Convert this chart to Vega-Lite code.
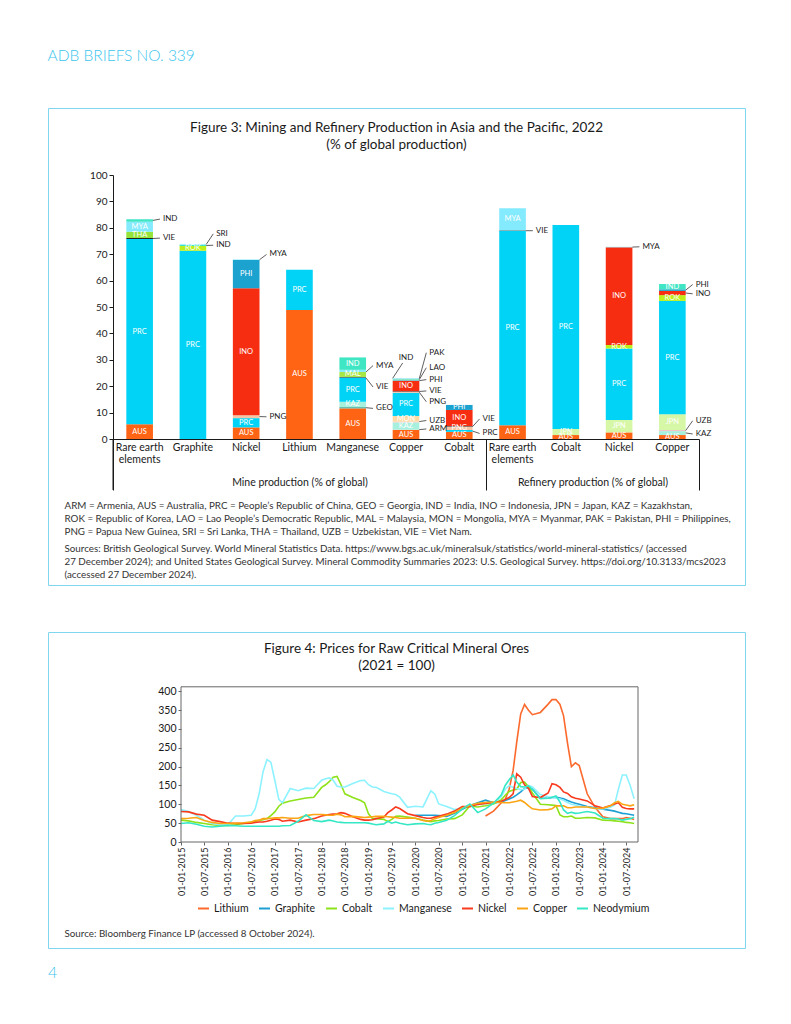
{
"$schema": "https://vega.github.io/schema/vega-lite/v6.json",
"background": "white",
"padding": {"left": 47, "top": 49, "right": 0, "bottom": 0},
"autosize": {"type": "pad"},
"config": {
  "font": "Lato",
  "view": {"stroke": "#80d6f0", "strokeWidth": 1},
  "axis": {"labelFont": "Lato", "titleFont": "Lato", "grid": false},
  "title": {"font": "Lato", "subtitleFont": "Lato"},
  "text": {"font": "Lato"},
  "legend": {"labelFont": "Lato"}
},
"resolve": {"scale": {"color": "independent"}, "legend": {"color": "independent"}},
"title": {"text": "ADB BRIEFS NO. 339", "anchor": "start", "fontSize": 15.5, "fontWeight": 300, "color": "#3dc5ee", "offset": 43},
"datasets": {
  "segs": [
    {"bar": "m_ree", "c": "AUS", "v": 5.6, "o": 1, "t": "AUS"},
    {"bar": "m_ree", "c": "PRC", "v": 70.2, "o": 2, "t": "PRC"},
    {"bar": "m_ree", "c": "VIE", "v": 0.3, "o": 3, "t": ""},
    {"bar": "m_ree", "c": "THA", "v": 2.4, "o": 4, "t": "THA"},
    {"bar": "m_ree", "c": "MYA", "v": 3.8, "o": 5, "t": "MYA"},
    {"bar": "m_ree", "c": "IND", "v": 0.9, "o": 6, "t": ""},
    {"bar": "m_gra", "c": "PRC", "v": 71.3, "o": 1, "t": "PRC"},
    {"bar": "m_gra", "c": "ROK", "v": 1.8, "o": 2, "t": "ROK"},
    {"bar": "m_gra", "c": "IND", "v": 0.4, "o": 3, "t": ""},
    {"bar": "m_gra", "c": "SRI", "v": 0.4, "o": 4, "t": ""},
    {"bar": "m_nic", "c": "AUS", "v": 4.4, "o": 1, "t": "AUS"},
    {"bar": "m_nic", "c": "PRC", "v": 3.5, "o": 2, "t": "PRC"},
    {"bar": "m_nic", "c": "PNG", "v": 1.1, "o": 3, "t": ""},
    {"bar": "m_nic", "c": "INO", "v": 48.1, "o": 4, "t": "INO"},
    {"bar": "m_nic", "c": "PHI", "v": 10.7, "o": 5, "t": "PHI"},
    {"bar": "m_nic", "c": "MYA", "v": 0.2, "o": 6, "t": ""},
    {"bar": "m_lit", "c": "AUS", "v": 48.9, "o": 1, "t": "AUS"},
    {"bar": "m_lit", "c": "PRC", "v": 15.2, "o": 2, "t": "PRC"},
    {"bar": "m_man", "c": "AUS", "v": 11.6, "o": 1, "t": "AUS"},
    {"bar": "m_man", "c": "GEO", "v": 0.5, "o": 2, "t": ""},
    {"bar": "m_man", "c": "KAZ", "v": 2.0, "o": 3, "t": "KAZ"},
    {"bar": "m_man", "c": "PRC", "v": 9.2, "o": 4, "t": "PRC"},
    {"bar": "m_man", "c": "VIE", "v": 0.2, "o": 5, "t": ""},
    {"bar": "m_man", "c": "MAL", "v": 1.9, "o": 6, "t": "MAL"},
    {"bar": "m_man", "c": "MYA", "v": 0.8, "o": 7, "t": ""},
    {"bar": "m_man", "c": "IND", "v": 4.7, "o": 8, "t": "IND"},
    {"bar": "m_cop", "c": "AUS", "v": 3.4, "o": 1, "t": "AUS"},
    {"bar": "m_cop", "c": "ARM", "v": 0.3, "o": 2, "t": ""},
    {"bar": "m_cop", "c": "KAZ", "v": 2.6, "o": 3, "t": "KAZ"},
    {"bar": "m_cop", "c": "UZB", "v": 0.3, "o": 4, "t": ""},
    {"bar": "m_cop", "c": "MON", "v": 2.1, "o": 5, "t": "MON"},
    {"bar": "m_cop", "c": "PRC", "v": 8.8, "o": 6, "t": "PRC"},
    {"bar": "m_cop", "c": "PNG", "v": 0.4, "o": 7, "t": ""},
    {"bar": "m_cop", "c": "VIE", "v": 0.2, "o": 8, "t": ""},
    {"bar": "m_cop", "c": "INO", "v": 3.9, "o": 9, "t": "INO"},
    {"bar": "m_cop", "c": "PHI", "v": 0.25, "o": 10, "t": ""},
    {"bar": "m_cop", "c": "LAO", "v": 0.25, "o": 11, "t": ""},
    {"bar": "m_cop", "c": "IND", "v": 0.25, "o": 12, "t": ""},
    {"bar": "m_cop", "c": "PAK", "v": 0.3, "o": 13, "t": ""},
    {"bar": "m_cob", "c": "AUS", "v": 2.7, "o": 1, "t": "AUS"},
    {"bar": "m_cob", "c": "PRC", "v": 0.7, "o": 2, "t": ""},
    {"bar": "m_cob", "c": "PNG", "v": 1.3, "o": 3, "t": "PNG"},
    {"bar": "m_cob", "c": "VIE", "v": 0.2, "o": 4, "t": ""},
    {"bar": "m_cob", "c": "INO", "v": 6.1, "o": 5, "t": "INO"},
    {"bar": "m_cob", "c": "PHI", "v": 1.9, "o": 6, "t": "PHI"},
    {"bar": "r_ree", "c": "AUS", "v": 5.2, "o": 1, "t": "AUS"},
    {"bar": "r_ree", "c": "PRC", "v": 73.6, "o": 2, "t": "PRC"},
    {"bar": "r_ree", "c": "VIE", "v": 0.2, "o": 3, "t": ""},
    {"bar": "r_ree", "c": "MYA", "v": 8.4, "o": 4, "t": "MYA"},
    {"bar": "r_cob", "c": "AUS", "v": 1.5, "o": 1, "t": "AUS"},
    {"bar": "r_cob", "c": "JPN", "v": 2.3, "o": 2, "t": "JPN"},
    {"bar": "r_cob", "c": "PRC", "v": 77.3, "o": 3, "t": "PRC"},
    {"bar": "r_nic", "c": "AUS", "v": 2.5, "o": 1, "t": "AUS"},
    {"bar": "r_nic", "c": "JPN", "v": 4.7, "o": 2, "t": "JPN"},
    {"bar": "r_nic", "c": "PRC", "v": 27.1, "o": 3, "t": "PRC"},
    {"bar": "r_nic", "c": "ROK", "v": 1.3, "o": 4, "t": "ROK"},
    {"bar": "r_nic", "c": "INO", "v": 37.0, "o": 5, "t": "INO"},
    {"bar": "r_nic", "c": "MYA", "v": 0.2, "o": 6, "t": ""},
    {"bar": "r_cop", "c": "AUS", "v": 1.5, "o": 1, "t": "AUS"},
    {"bar": "r_cop", "c": "KAZ", "v": 1.5, "o": 2, "t": ""},
    {"bar": "r_cop", "c": "UZB", "v": 0.4, "o": 3, "t": ""},
    {"bar": "r_cop", "c": "JPN", "v": 6.0, "o": 4, "t": "JPN"},
    {"bar": "r_cop", "c": "PRC", "v": 42.9, "o": 5, "t": "PRC"},
    {"bar": "r_cop", "c": "ROK", "v": 2.2, "o": 6, "t": "ROK"},
    {"bar": "r_cop", "c": "INO", "v": 1.6, "o": 7, "t": ""},
    {"bar": "r_cop", "c": "PHI", "v": 0.6, "o": 8, "t": ""},
    {"bar": "r_cop", "c": "IND", "v": 2.0, "o": 9, "t": "IND"}
  ],
  "annos": [
    {"bar": "m_ree", "t": "IND", "ys": 82.8, "ye": 83.3, "yl": 83.3, "s": "r"},
    {"bar": "m_ree", "t": "VIE", "ys": 75.95, "ye": 76.1, "yl": 76.1, "s": "r"},
    {"bar": "m_gra", "t": "SRI", "ys": 73.7, "ye": 77.7, "yl": 77.7, "s": "r"},
    {"bar": "m_gra", "t": "IND", "ys": 73.3, "ye": 73.4, "yl": 73.4, "s": "r"},
    {"bar": "m_nic", "t": "MYA", "ys": 67.9, "ye": 69.9, "yl": 69.9, "s": "r"},
    {"bar": "m_nic", "t": "PNG", "ys": 8.5, "ye": 8.4, "yl": 8.4, "s": "r"},
    {"bar": "m_man", "t": "MYA", "ys": 25.4, "ye": 27.8, "yl": 27.8, "s": "r"},
    {"bar": "m_man", "t": "VIE", "ys": 23.1, "ye": 19.7, "yl": 19.7, "s": "r"},
    {"bar": "m_man", "t": "GEO", "ys": 11.85, "ye": 11.6, "yl": 11.6, "s": "r"},
    {"bar": "m_cop", "t": "PAK", "ys": 22.9, "ye": 32.7, "yl": 32.7, "s": "r"},
    {"bar": "m_cop", "t": "LAO", "ys": 22.5, "ye": 27.0, "yl": 27.0, "s": "r"},
    {"bar": "m_cop", "t": "PHI", "ys": 22.1, "ye": 22.5, "yl": 22.5, "s": "r"},
    {"bar": "m_cop", "t": "VIE", "ys": 18.0, "ye": 18.2, "yl": 18.2, "s": "r"},
    {"bar": "m_cop", "t": "PNG", "ys": 17.7, "ye": 14.1, "yl": 14.1, "s": "r"},
    {"bar": "m_cop", "t": "UZB", "ys": 6.6, "ye": 7.0, "yl": 7.0, "s": "r"},
    {"bar": "m_cop", "t": "ARM", "ys": 3.55, "ye": 3.8, "yl": 3.8, "s": "r"},
    {"bar": "m_cop", "t": "IND", "ys": 23.0, "ye": 28.8, "yl": 30.6, "s": "t"},
    {"bar": "m_cob", "t": "VIE", "ys": 4.7, "ye": 7.6, "yl": 7.6, "s": "r"},
    {"bar": "m_cob", "t": "PRC", "ys": 3.0, "ye": 2.1, "yl": 2.1, "s": "r"},
    {"bar": "r_ree", "t": "VIE", "ys": 78.9, "ye": 78.9, "yl": 78.9, "s": "r"},
    {"bar": "r_nic", "t": "MYA", "ys": 72.7, "ye": 72.8, "yl": 72.8, "s": "r"},
    {"bar": "r_cop", "t": "PHI", "ys": 56.4, "ye": 58.5, "yl": 58.5, "s": "r"},
    {"bar": "r_cop", "t": "INO", "ys": 55.3, "ye": 55.0, "yl": 55.0, "s": "r"},
    {"bar": "r_cop", "t": "UZB", "ys": 3.2, "ye": 6.9, "yl": 6.9, "s": "r"},
    {"bar": "r_cop", "t": "KAZ", "ys": 2.3, "ye": 1.9, "yl": 1.9, "s": "r"}
  ],
  "prices": [
    {"d": "2015-01-01", "Cobalt": 58, "Manganese": 86, "Nickel": 81, "Copper": 62, "Neodymium": 49},
    {"d": "2015-03-01", "Cobalt": 56, "Manganese": 81, "Nickel": 80, "Copper": 63, "Neodymium": 51},
    {"d": "2015-05-01", "Cobalt": 52, "Manganese": 71, "Nickel": 74, "Copper": 65, "Neodymium": 47},
    {"d": "2015-07-01", "Cobalt": 49, "Manganese": 58, "Nickel": 71, "Copper": 57, "Neodymium": 42},
    {"d": "2015-09-01", "Cobalt": 46, "Manganese": 49, "Nickel": 58, "Copper": 52, "Neodymium": 40},
    {"d": "2015-11-01", "Cobalt": 44, "Manganese": 46, "Nickel": 54, "Copper": 49, "Neodymium": 42},
    {"d": "2016-01-01", "Cobalt": 44, "Manganese": 46, "Nickel": 50, "Copper": 49, "Neodymium": 44},
    {"d": "2016-03-01", "Cobalt": 46, "Manganese": 69, "Nickel": 49, "Copper": 50, "Neodymium": 43},
    {"d": "2016-05-01", "Cobalt": 49, "Manganese": 69, "Nickel": 49, "Copper": 51, "Neodymium": 42},
    {"d": "2016-07-01", "Cobalt": 53, "Manganese": 71, "Nickel": 50, "Copper": 53, "Neodymium": 42},
    {"d": "2016-08-01", "Cobalt": 55, "Manganese": 88, "Nickel": 52, "Copper": 57, "Neodymium": 42},
    {"d": "2016-09-01", "Cobalt": 57, "Manganese": 128, "Nickel": 53, "Copper": 58, "Neodymium": 42},
    {"d": "2016-10-01", "Cobalt": 59, "Manganese": 186, "Nickel": 53, "Copper": 62, "Neodymium": 42},
    {"d": "2016-11-01", "Cobalt": 62, "Manganese": 219, "Nickel": 55, "Copper": 62, "Neodymium": 42},
    {"d": "2016-12-01", "Cobalt": 70, "Manganese": 212, "Nickel": 58, "Copper": 63, "Neodymium": 42},
    {"d": "2017-01-01", "Cobalt": 80, "Manganese": 164, "Nickel": 61, "Copper": 64, "Neodymium": 42},
    {"d": "2017-02-01", "Cobalt": 95, "Manganese": 113, "Nickel": 60, "Copper": 64, "Neodymium": 42},
    {"d": "2017-03-01", "Cobalt": 103, "Manganese": 104, "Nickel": 55, "Copper": 65, "Neodymium": 43},
    {"d": "2017-05-01", "Cobalt": 109, "Manganese": 142, "Nickel": 58, "Copper": 63, "Neodymium": 44},
    {"d": "2017-07-01", "Cobalt": 113, "Manganese": 136, "Nickel": 53, "Copper": 63, "Neodymium": 55},
    {"d": "2017-09-01", "Cobalt": 117, "Manganese": 143, "Nickel": 58, "Copper": 70, "Neodymium": 72},
    {"d": "2017-11-01", "Cobalt": 119, "Manganese": 142, "Nickel": 62, "Copper": 73, "Neodymium": 57},
    {"d": "2018-01-01", "Cobalt": 145, "Manganese": 164, "Nickel": 69, "Copper": 73, "Neodymium": 54},
    {"d": "2018-02-01", "Cobalt": 152, "Manganese": 168, "Nickel": 71, "Copper": 72, "Neodymium": 56},
    {"d": "2018-03-01", "Cobalt": 160, "Manganese": 170, "Nickel": 73, "Copper": 71, "Neodymium": 58},
    {"d": "2018-04-01", "Cobalt": 172, "Manganese": 164, "Nickel": 74, "Copper": 71, "Neodymium": 56},
    {"d": "2018-05-01", "Cobalt": 174, "Manganese": 148, "Nickel": 75, "Copper": 74, "Neodymium": 53},
    {"d": "2018-06-01", "Cobalt": 152, "Manganese": 146, "Nickel": 78, "Copper": 72, "Neodymium": 52},
    {"d": "2018-07-01", "Cobalt": 128, "Manganese": 146, "Nickel": 76, "Copper": 67, "Neodymium": 51},
    {"d": "2018-09-01", "Cobalt": 118, "Manganese": 155, "Nickel": 67, "Copper": 68, "Neodymium": 51},
    {"d": "2018-11-01", "Cobalt": 110, "Manganese": 163, "Nickel": 60, "Copper": 66, "Neodymium": 51},
    {"d": "2018-12-01", "Cobalt": 104, "Manganese": 164, "Nickel": 58, "Copper": 65, "Neodymium": 51},
    {"d": "2019-01-01", "Cobalt": 75, "Manganese": 152, "Nickel": 58, "Copper": 66, "Neodymium": 50},
    {"d": "2019-02-01", "Cobalt": 62, "Manganese": 146, "Nickel": 59, "Copper": 67, "Neodymium": 48},
    {"d": "2019-03-01", "Cobalt": 62, "Manganese": 145, "Nickel": 62, "Copper": 68, "Neodymium": 46},
    {"d": "2019-05-01", "Cobalt": 60, "Manganese": 134, "Nickel": 66, "Copper": 68, "Neodymium": 48},
    {"d": "2019-06-01", "Cobalt": 54, "Manganese": 131, "Nickel": 78, "Copper": 67, "Neodymium": 55},
    {"d": "2019-07-01", "Cobalt": 60, "Manganese": 128, "Nickel": 85, "Copper": 66, "Neodymium": 50},
    {"d": "2019-08-01", "Cobalt": 68, "Manganese": 126, "Nickel": 93, "Copper": 65, "Neodymium": 53},
    {"d": "2019-09-01", "Cobalt": 69, "Manganese": 119, "Nickel": 89, "Copper": 63, "Neodymium": 50},
    {"d": "2019-11-01", "Cobalt": 66, "Manganese": 92, "Nickel": 75, "Copper": 63, "Neodymium": 46},
    {"d": "2020-01-01", "Graphite": 71, "Cobalt": 63, "Manganese": 95, "Nickel": 70, "Copper": 63, "Neodymium": 48},
    {"d": "2020-03-01", "Graphite": 71, "Cobalt": 58, "Manganese": 93, "Nickel": 65, "Copper": 57, "Neodymium": 49},
    {"d": "2020-04-01", "Graphite": 71, "Cobalt": 56, "Manganese": 115, "Nickel": 63, "Copper": 55, "Neodymium": 47},
    {"d": "2020-05-01", "Graphite": 71, "Cobalt": 54, "Manganese": 136, "Nickel": 63, "Copper": 57, "Neodymium": 46},
    {"d": "2020-06-01", "Graphite": 71, "Cobalt": 56, "Manganese": 127, "Nickel": 66, "Copper": 62, "Neodymium": 50},
    {"d": "2020-07-01", "Graphite": 70, "Cobalt": 57, "Manganese": 101, "Nickel": 68, "Copper": 65, "Neodymium": 52},
    {"d": "2020-09-01", "Graphite": 68, "Cobalt": 61, "Manganese": 94, "Nickel": 74, "Copper": 71, "Neodymium": 58},
    {"d": "2020-11-01", "Graphite": 76, "Cobalt": 62, "Manganese": 86, "Nickel": 82, "Copper": 78, "Neodymium": 70},
    {"d": "2021-01-01", "Graphite": 87, "Cobalt": 72, "Manganese": 90, "Nickel": 94, "Copper": 90, "Neodymium": 88},
    {"d": "2021-03-01", "Graphite": 97, "Cobalt": 96, "Manganese": 98, "Nickel": 94, "Copper": 97, "Neodymium": 101},
    {"d": "2021-05-01", "Graphite": 104, "Cobalt": 93, "Manganese": 100, "Nickel": 100, "Copper": 103, "Neodymium": 78},
    {"d": "2021-07-01", "Lithium": 69, "Graphite": 111, "Cobalt": 96, "Manganese": 102, "Nickel": 102, "Copper": 105, "Neodymium": 88},
    {"d": "2021-09-01", "Lithium": 82, "Graphite": 104, "Cobalt": 101, "Manganese": 103, "Nickel": 105, "Copper": 106, "Neodymium": 103},
    {"d": "2021-11-01", "Lithium": 104, "Graphite": 106, "Cobalt": 112, "Manganese": 120, "Nickel": 108, "Copper": 105, "Neodymium": 125},
    {"d": "2021-12-01", "Lithium": 113, "Graphite": 110, "Cobalt": 124, "Manganese": 140, "Nickel": 113, "Copper": 104, "Neodymium": 150},
    {"d": "2022-01-01", "Lithium": 140, "Graphite": 114, "Cobalt": 134, "Manganese": 150, "Nickel": 118, "Copper": 104, "Neodymium": 165},
    {"d": "2022-02-01", "Lithium": 190, "Graphite": 119, "Cobalt": 138, "Manganese": 145, "Nickel": 128, "Copper": 106, "Neodymium": 178},
    {"d": "2022-03-01", "Lithium": 265, "Graphite": 125, "Cobalt": 140, "Manganese": 142, "Nickel": 181, "Copper": 108, "Neodymium": 159},
    {"d": "2022-04-01", "Lithium": 340, "Graphite": 133, "Cobalt": 158, "Manganese": 139, "Nickel": 172, "Copper": 111, "Neodymium": 147},
    {"d": "2022-05-01", "Lithium": 365, "Graphite": 142, "Cobalt": 159, "Manganese": 140, "Nickel": 152, "Copper": 105, "Neodymium": 146},
    {"d": "2022-06-01", "Lithium": 350, "Graphite": 144, "Cobalt": 147, "Manganese": 150, "Nickel": 142, "Copper": 96, "Neodymium": 149},
    {"d": "2022-07-01", "Lithium": 338, "Graphite": 140, "Cobalt": 130, "Manganese": 146, "Nickel": 121, "Copper": 88, "Neodymium": 140},
    {"d": "2022-09-01", "Lithium": 344, "Graphite": 116, "Cobalt": 100, "Manganese": 126, "Nickel": 118, "Copper": 85, "Neodymium": 115},
    {"d": "2022-11-01", "Lithium": 366, "Graphite": 116, "Cobalt": 99, "Manganese": 120, "Nickel": 130, "Copper": 86, "Neodymium": 116},
    {"d": "2022-12-01", "Lithium": 378, "Graphite": 118, "Cobalt": 98, "Manganese": 118, "Nickel": 155, "Copper": 88, "Neodymium": 119},
    {"d": "2023-01-01", "Lithium": 378, "Graphite": 119, "Cobalt": 97, "Manganese": 117, "Nickel": 152, "Copper": 96, "Neodymium": 122},
    {"d": "2023-02-01", "Lithium": 365, "Graphite": 117, "Cobalt": 72, "Manganese": 114, "Nickel": 145, "Copper": 96, "Neodymium": 106},
    {"d": "2023-03-01", "Lithium": 335, "Graphite": 115, "Cobalt": 67, "Manganese": 111, "Nickel": 133, "Copper": 96, "Neodymium": 85},
    {"d": "2023-04-01", "Lithium": 262, "Graphite": 110, "Cobalt": 67, "Manganese": 105, "Nickel": 129, "Copper": 91, "Neodymium": 76},
    {"d": "2023-05-01", "Lithium": 200, "Graphite": 106, "Cobalt": 69, "Manganese": 100, "Nickel": 120, "Copper": 91, "Neodymium": 79},
    {"d": "2023-06-01", "Lithium": 210, "Graphite": 103, "Cobalt": 63, "Manganese": 98, "Nickel": 116, "Copper": 93, "Neodymium": 76},
    {"d": "2023-07-01", "Lithium": 203, "Graphite": 100, "Cobalt": 63, "Manganese": 95, "Nickel": 114, "Copper": 93, "Neodymium": 77},
    {"d": "2023-09-01", "Lithium": 128, "Graphite": 94, "Cobalt": 65, "Manganese": 93, "Nickel": 109, "Copper": 93, "Neodymium": 81},
    {"d": "2023-11-01", "Lithium": 92, "Graphite": 91, "Cobalt": 64, "Manganese": 89, "Nickel": 96, "Copper": 89, "Neodymium": 77},
    {"d": "2024-01-01", "Lithium": 67, "Graphite": 87, "Cobalt": 58, "Manganese": 88, "Nickel": 90, "Copper": 90, "Neodymium": 63},
    {"d": "2024-03-01", "Lithium": 62, "Graphite": 84, "Cobalt": 57, "Manganese": 92, "Nickel": 97, "Copper": 96, "Neodymium": 62},
    {"d": "2024-04-01", "Lithium": 62, "Graphite": 82, "Cobalt": 56, "Manganese": 98, "Nickel": 101, "Copper": 104, "Neodymium": 62},
    {"d": "2024-05-01", "Lithium": 62, "Graphite": 79, "Cobalt": 55, "Manganese": 140, "Nickel": 104, "Copper": 108, "Neodymium": 61},
    {"d": "2024-06-01", "Lithium": 62, "Graphite": 76, "Cobalt": 54, "Manganese": 178, "Nickel": 92, "Copper": 100, "Neodymium": 58},
    {"d": "2024-07-01", "Lithium": 65, "Graphite": 75, "Cobalt": 52, "Manganese": 178, "Nickel": 89, "Copper": 98, "Neodymium": 60},
    {"d": "2024-08-01", "Lithium": 63, "Graphite": 73, "Cobalt": 51, "Manganese": 150, "Nickel": 88, "Copper": 96, "Neodymium": 62},
    {"d": "2024-09-01", "Lithium": 60, "Graphite": 71, "Cobalt": 49, "Manganese": 115, "Nickel": 88, "Copper": 99, "Neodymium": 66}
  ]
},
"spacing": 45,
"vconcat": [
  {
    "width": 697,
    "height": 477,
    "title": {"text": "Figure 3: Mining and Refinery Production in Asia and the Pacific, 2022", "subtitle": "(% of global production)", "anchor": "middle", "frame": "group", "offset": -43, "fontSize": 13.5, "fontWeight": "normal", "color": "#1a1a1a", "subtitleFontSize": 13.5, "subtitleColor": "#1a1a1a", "subtitlePadding": 3.5},
    "resolve": {"scale": {"x": "independent"}},
    "layer": [
      {
        "layer": [
          {
            "data": {"name": "segs"},
            "mark": {"type": "bar"},
            "encoding": {
              "x": {"field": "bar", "type": "nominal",
                "scale": {"domain": ["m_ree", "m_gra", "m_nic", "m_lit", "m_man", "m_cop", "m_cob", "r_ree", "r_cob", "r_nic", "r_cop"], "range": [65, 651], "paddingInner": 0.5, "paddingOuter": 0.25},
                "axis": {"orient": "bottom", "offset": -146, "ticks": false, "labelPadding": 3, "labelFontSize": 10.5, "labelColor": "#1a1a1a", "labelAngle": 0, "labelLineHeight": 12, "labelBaseline": "top",
                  "labelExpr": "datum.value=='m_ree'||datum.value=='r_ree' ? ['Rare earth','elements'] : datum.value=='m_gra' ? 'Graphite' : datum.value=='m_nic'||datum.value=='r_nic' ? 'Nickel' : datum.value=='m_lit' ? 'Lithium' : datum.value=='m_man' ? 'Manganese' : datum.value=='m_cop'||datum.value=='r_cop' ? 'Copper' : 'Cobalt'",
                  "domainColor": "#1a1a1a", "domainWidth": 1,
                  "title": ["ARM = Armenia, AUS = Australia, PRC = People’s Republic of China, GEO = Georgia, IND = India, INO = Indonesia, JPN = Japan, KAZ = Kazakhstan,", "ROK = Republic of Korea, LAO = Lao People’s Democratic Republic, MAL = Malaysia, MON = Mongolia, MYA = Myanmar, PAK = Pakistan, PHI = Philippines,", "PNG = Papua New Guinea, SRI = Sri Lanka, THA = Thailand, UZB = Uzbekistan, VIE = Viet Nam."],
                  "titleX": 16, "titleY": 61.5, "titleAlign": "left", "titleAnchor": "start", "titleBaseline": "top", "titleFontSize": 9.8, "titleFontWeight": "normal", "titleColor": "#333333", "titleLineHeight": 13}},
              "y": {"field": "v", "type": "quantitative", "stack": "zero",
                "scale": {"domain": [0, 100], "range": [331, 67], "nice": false},
                "axis": {"orient": "left", "offset": -65, "values": [0, 10, 20, 30, 40, 50, 60, 70, 80, 90, 100], "title": null, "tickSize": 4, "labelPadding": 2, "labelFontSize": 10, "labelColor": "#1a1a1a", "domainColor": "#1a1a1a", "tickColor": "#1a1a1a"}},
              "color": {"field": "c", "type": "nominal",
                "scale": {"domain": ["AUS", "PRC", "INO", "PHI", "MYA", "IND", "THA", "ROK", "MAL", "KAZ", "MON", "PNG", "JPN", "VIE", "GEO", "SRI", "UZB", "ARM", "LAO", "PAK"],
                          "range": ["#ff6314", "#00d3f5", "#f72d12", "#1ba2cf", "#84eafd", "#3fe6c4", "#93e33a", "#bdf01a", "#a6e646", "#a8f0de", "#ffdba3", "#f5c6a6", "#d6f7a6", "#222222", "#5cb8a8", "#a5eefb", "#f3c4c8", "#b5e8d8", "#f9c58a", "#9ee8f5"]},
                "legend": null},
              "order": {"field": "o", "type": "quantitative"}
            }
          },
          {
            "data": {"name": "segs"},
            "mark": {"type": "text", "fontSize": 7.5, "color": "white", "baseline": "middle"},
            "encoding": {
              "x": {"field": "bar", "type": "nominal"},
              "y": {"field": "v", "type": "quantitative", "stack": "zero", "bandPosition": 0.5},
              "detail": {"field": "c"},
              "order": {"field": "o", "type": "quantitative"},
              "text": {"field": "t"}
            }
          },
          {
            "data": {"name": "annos"},
            "transform": [{"filter": "datum.s == 'r'"}],
            "mark": {"type": "rule", "color": "#1a1a1a", "strokeWidth": 0.7, "x2Offset": 7},
            "encoding": {
              "x": {"field": "bar", "type": "nominal", "bandPosition": 1},
              "x2": {"field": "bar", "bandPosition": 1},
              "y": {"field": "ys", "type": "quantitative"},
              "y2": {"field": "ye"}
            }
          },
          {
            "data": {"name": "annos"},
            "transform": [{"filter": "datum.s == 'r'"}],
            "mark": {"type": "text", "align": "left", "baseline": "middle", "dx": 10, "fontSize": 8, "color": "#1a1a1a"},
            "encoding": {
              "x": {"field": "bar", "type": "nominal", "bandPosition": 1},
              "y": {"field": "yl", "type": "quantitative"},
              "text": {"field": "t"}
            }
          },
          {
            "data": {"name": "annos"},
            "transform": [{"filter": "datum.s == 't'"}],
            "mark": {"type": "rule", "color": "#1a1a1a", "strokeWidth": 0.7, "x2Offset": 10},
            "encoding": {
              "x": {"field": "bar", "type": "nominal", "bandPosition": 0},
              "x2": {"field": "bar", "bandPosition": 0},
              "y": {"field": "ys", "type": "quantitative"},
              "y2": {"field": "ye"}
            }
          },
          {
            "data": {"name": "annos"},
            "transform": [{"filter": "datum.s == 't'"}],
            "mark": {"type": "text", "align": "center", "baseline": "middle", "fontSize": 8, "color": "#1a1a1a"},
            "encoding": {
              "x": {"field": "bar", "type": "nominal", "bandPosition": 0.5},
              "y": {"field": "yl", "type": "quantitative"},
              "text": {"field": "t"}
            }
          }
        ]
      },
      {
        "data": {"values": [{}]},
        "mark": {"type": "rule", "color": "#1a1a1a", "strokeWidth": 1},
        "encoding": {
          "x": {"datum": 0, "type": "quantitative",
            "scale": {"domain": [0, 11], "range": [65, 651], "nice": false, "zero": false},
            "axis": {"orient": "bottom", "offset": -146, "values": [0, 3.5, 7, 9, 11], "domain": false, "tickSize": 51, "tickColor": "#1a1a1a", "tickWidth": 1,
              "tickOpacity": {"condition": {"test": "datum.value == 3.5 || datum.value == 9", "value": 0}, "value": 1},
              "labelExpr": "datum.value == 3.5 ? 'Mine production (% of global)' : datum.value == 9 ? 'Refinery production (% of global)' : ''",
              "labelPadding": -12.5, "labelFontSize": 10.5, "labelColor": "#1a1a1a", "labelBaseline": "top", "labelFlush": false, "labelOverlap": false, "labelBound": false,
              "title": ["Sources: British Geological Survey. World Mineral Statistics Data. https://www.bgs.ac.uk/mineralsuk/statistics/world-mineral-statistics/ (accessed", "27 December 2024); and United States Geological Survey. Mineral Commodity Summaries 2023: U.S. Geological Survey. https://doi.org/10.3133/mcs2023", "(accessed 27 December 2024)."],
              "titleX": 16, "titleY": 104.5, "titleAlign": "left", "titleAnchor": "start", "titleBaseline": "top", "titleFontSize": 9.8, "titleFontWeight": "normal", "titleColor": "#333333", "titleLineHeight": 13}},
          "y": {"datum": 0, "type": "quantitative"},
          "y2": {"datum": -19.3}
        }
      }
    ]
  },
  {
    "spacing": 15,
    "vconcat": [
      {
        "width": 697,
        "height": 316,
        "title": {"text": "Figure 4: Prices for Raw Critical Mineral Ores", "subtitle": "(2021 = 100)", "anchor": "middle", "frame": "group", "offset": -40, "fontSize": 13.5, "fontWeight": "normal", "color": "#1a1a1a", "subtitleFontSize": 13.5, "subtitleColor": "#1a1a1a", "subtitlePadding": 3.5},
        "layer": [
          {
            "data": {"name": "prices"},
            "transform": [{"fold": ["Lithium", "Graphite", "Cobalt", "Manganese", "Nickel", "Copper", "Neodymium"], "as": ["s", "p"]}],
            "mark": {"type": "line", "strokeWidth": 1.6},
            "encoding": {
              "x": {"field": "d", "type": "temporal",
                "scale": {"type": "utc", "domain": [{"year": 2015, "month": 1, "date": 1, "utc": true}, {"year": 2024, "month": 10, "date": 1, "utc": true}], "range": [133, 590], "nice": false},
                "axis": {"orient": "bottom", "offset": -106,
                  "values": [{"year": 2015, "month": 1, "date": 1, "utc": true}, {"year": 2015, "month": 7, "date": 1, "utc": true}, {"year": 2016, "month": 1, "date": 1, "utc": true}, {"year": 2016, "month": 7, "date": 1, "utc": true}, {"year": 2017, "month": 1, "date": 1, "utc": true}, {"year": 2017, "month": 7, "date": 1, "utc": true}, {"year": 2018, "month": 1, "date": 1, "utc": true}, {"year": 2018, "month": 7, "date": 1, "utc": true}, {"year": 2019, "month": 1, "date": 1, "utc": true}, {"year": 2019, "month": 7, "date": 1, "utc": true}, {"year": 2020, "month": 1, "date": 1, "utc": true}, {"year": 2020, "month": 7, "date": 1, "utc": true}, {"year": 2021, "month": 1, "date": 1, "utc": true}, {"year": 2021, "month": 7, "date": 1, "utc": true}, {"year": 2022, "month": 1, "date": 1, "utc": true}, {"year": 2022, "month": 7, "date": 1, "utc": true}, {"year": 2023, "month": 1, "date": 1, "utc": true}, {"year": 2023, "month": 7, "date": 1, "utc": true}, {"year": 2024, "month": 1, "date": 1, "utc": true}, {"year": 2024, "month": 7, "date": 1, "utc": true}],
                  "labelExpr": "utcFormat(datum.value, '%d-%m-%Y')", "labelAngle": -90, "labelFontSize": 9, "labelColor": "#1a1a1a", "labelPadding": 2, "tickSize": 3, "tickColor": "#666666", "domain": false, "labelFlush": false, "labelOverlap": false, "labelBound": false,
                  "title": "Source: Bloomberg Finance LP (accessed 8 October 2024).", "titleX": 16, "titleY": 86, "titleAlign": "left", "titleAnchor": "start", "titleBaseline": "top", "titleFontSize": 9.8, "titleFontWeight": "normal", "titleColor": "#333333"}},
              "y": {"field": "p", "type": "quantitative",
                "scale": {"domain": [0, 412], "range": [210, 54.8], "nice": false},
                "axis": {"orient": "left", "offset": -133, "values": [0, 50, 100, 150, 200, 250, 300, 350, 400], "title": null, "tickSize": 3, "tickColor": "#666666", "labelPadding": 2, "labelFontSize": 10.5, "labelColor": "#1a1a1a", "domain": false}},
              "color": {"field": "s", "type": "nominal",
                "scale": {"domain": ["Lithium", "Graphite", "Cobalt", "Manganese", "Nickel", "Copper", "Neodymium"], "range": ["#fb6a2c", "#1e9fd4", "#8ee21a", "#8df2ff", "#f83a1e", "#fca514", "#35e8c5"]},
                "legend": {"orient": "none", "legendX": 149, "legendY": 270, "direction": "horizontal", "title": null, "symbolType": "stroke", "symbolStrokeWidth": 2, "symbolSize": 120, "labelFontSize": 10.5, "labelColor": "#1a1a1a", "columnPadding": 6, "labelOffset": 4}}
            }
          },
          {
            "data": {"values": [{}]},
            "mark": {"type": "rect", "fillOpacity": 0, "stroke": "#666666", "strokeWidth": 1},
            "encoding": {
              "x": {"datum": {"year": 2015, "month": 1, "date": 1, "utc": true}, "type": "temporal",
                "axis": {"orient": "bottom", "offset": -106,
                  "values": [{"year": 2015, "month": 1, "date": 1, "utc": true}, {"year": 2015, "month": 7, "date": 1, "utc": true}, {"year": 2016, "month": 1, "date": 1, "utc": true}, {"year": 2016, "month": 7, "date": 1, "utc": true}, {"year": 2017, "month": 1, "date": 1, "utc": true}, {"year": 2017, "month": 7, "date": 1, "utc": true}, {"year": 2018, "month": 1, "date": 1, "utc": true}, {"year": 2018, "month": 7, "date": 1, "utc": true}, {"year": 2019, "month": 1, "date": 1, "utc": true}, {"year": 2019, "month": 7, "date": 1, "utc": true}, {"year": 2020, "month": 1, "date": 1, "utc": true}, {"year": 2020, "month": 7, "date": 1, "utc": true}, {"year": 2021, "month": 1, "date": 1, "utc": true}, {"year": 2021, "month": 7, "date": 1, "utc": true}, {"year": 2022, "month": 1, "date": 1, "utc": true}, {"year": 2022, "month": 7, "date": 1, "utc": true}, {"year": 2023, "month": 1, "date": 1, "utc": true}, {"year": 2023, "month": 7, "date": 1, "utc": true}, {"year": 2024, "month": 1, "date": 1, "utc": true}, {"year": 2024, "month": 7, "date": 1, "utc": true}],
                  "labelExpr": "utcFormat(datum.value, '%d-%m-%Y')", "labelAngle": -90, "labelFontSize": 9, "labelColor": "#1a1a1a", "labelPadding": 2, "tickSize": 3, "tickColor": "#666666", "domain": false, "labelFlush": false, "labelOverlap": false, "labelBound": false,
                  "title": "Source: Bloomberg Finance LP (accessed 8 October 2024).", "titleX": 16, "titleY": 86, "titleAlign": "left", "titleAnchor": "start", "titleBaseline": "top", "titleFontSize": 9.8, "titleFontWeight": "normal", "titleColor": "#333333"}},
              "x2": {"datum": {"year": 2024, "month": 10, "date": 1, "utc": true}},
              "y": {"datum": 0, "type": "quantitative",
                "axis": {"orient": "left", "offset": -133, "values": [0, 50, 100, 150, 200, 250, 300, 350, 400], "title": null, "tickSize": 3, "tickColor": "#666666", "labelPadding": 2, "labelFontSize": 10.5, "labelColor": "#1a1a1a", "domain": false}},
              "y2": {"datum": 412}
            }
          }
        ]
      },
      {
        "width": 20,
        "height": 1,
        "data": {"values": []},
        "mark": "point",
        "view": {"stroke": "transparent"},
        "title": {"text": "4", "anchor": "start", "fontSize": 16, "fontWeight": 300, "color": "#3dc5ee", "offset": 0}
      }
    ]
  }
]
}
